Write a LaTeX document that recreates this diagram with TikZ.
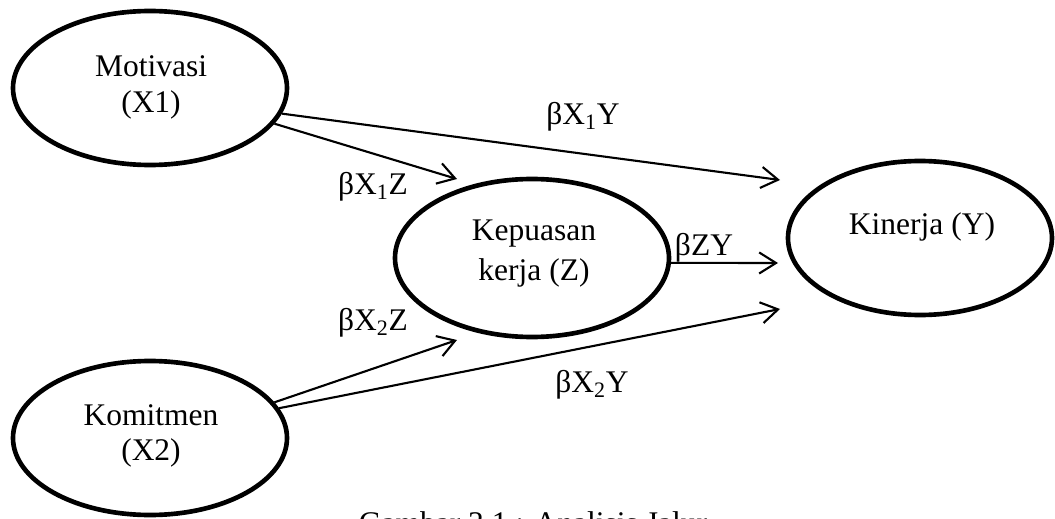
\documentclass[tikz,border=0pt]{standalone}
\usepackage{fontspec}
\setmainfont{Liberation Serif}
\usetikzlibrary{shapes.geometric,arrows.meta}
\newlength{\pxu}
\setlength{\pxu}{0.025cm}
\tikzset{
  var/.style={draw,ellipse,line width=3.3pt,inner sep=0pt,minimum width=274\pxu,minimum height=154\pxu},
  lbl/.style={font=\fontsize{22.4}{25.6}\selectfont,align=center,inner sep=0pt},
  path/.style={line width=1.5pt,-{Straight Barb[length=12pt,width=15pt,line width=1.5pt]}}
}
\begin{document}
\begin{tikzpicture}[x=0.025cm,y=-0.025cm]
\useasboundingbox (0,0) rectangle (1055,519);
% ellipses
\node[var] (X1) at (150,88) {};
\node[var,minimum height=158\pxu] (Z) at (532,258) {};
\node[var,minimum width=264\pxu] (Y) at (920,238) {};
\node[var] (X2) at (150,438) {};
% texts
\node[lbl] (tX1) at (151,87) {Motivasi\\(X1)};
\node[lbl,font=\fontsize{22.4}{28.4}\selectfont] (tZ) at (534,254) {Kepuasan\\kerja (Z)};
\node[lbl] (tY) at (922,227) {Kinerja (Y)};
\node[lbl,font=\fontsize{22.4}{25}\selectfont] (tX2) at (151,436) {Komitmen\\(X2)};
% arrow ends
\coordinate (eX1Y) at (780,180);
\coordinate (eX1Z) at (457,179);
\coordinate (eX2Z) at (457,340);
\coordinate (eX2Y) at (780,309);
\coordinate (eZY) at (778,263);
% arrows
\draw[path] (X1.-11) -- (eX1Y);
\draw[path] (X1.-16) -- (eX1Z);
\draw[path] (X2.16) -- (eX2Z);
\draw[path] (X2.13) -- (eX2Y);
\draw[path] (Z.-2) -- (eZY);
% labels
\node[lbl] (lX1Y) at (583,117) {βX\textsubscript{1}Y};
\node[lbl] (lX1Z) at (373,187) {βX\textsubscript{1}Z};
\node[lbl] (lX2Z) at (373,323) {βX\textsubscript{2}Z};
\node[lbl] (lX2Y) at (592,385) {βX\textsubscript{2}Y};
\node[lbl] (lZY) at (704,248) {βZY};
% caption
\node[lbl,anchor=base] (cap) at (533,533) {Gambar 3.1 : Analisis Jalur};
\end{tikzpicture}
\end{document}
